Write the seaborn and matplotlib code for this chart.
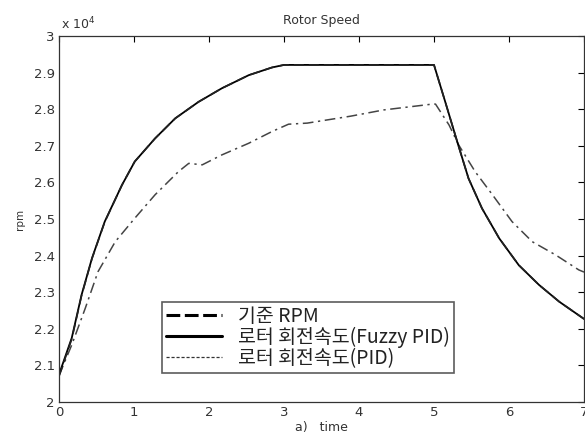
import numpy as np
import pandas as pd
import matplotlib
matplotlib.use("Agg")
import matplotlib.pyplot as plt
from matplotlib.lines import Line2D
import seaborn as sns

# 데이터 (그림에서 읽은 값, 단위 1e4 rpm)
t_ref = [0.0, 0.17, 0.30, 0.44, 0.61, 0.84, 1.01, 1.28, 1.55, 1.86, 2.17, 2.53, 2.84, 3.0,
         4.98, 5.0, 5.15, 5.31, 5.46, 5.64, 5.87, 6.13, 6.40, 6.67, 7.0]
rpm_ref = [2.07, 2.172, 2.29, 2.392, 2.492, 2.593, 2.657, 2.72, 2.775, 2.82, 2.857, 2.893, 2.914,
           2.921, 2.921, 2.921, 2.82, 2.711, 2.611, 2.529, 2.447, 2.374, 2.32, 2.274, 2.227]
rpm_fuzzy = [2.075, 2.175, 2.292, 2.393, 2.493, 2.593, 2.657, 2.72, 2.775, 2.82, 2.857, 2.893, 2.914,
             2.921, 2.921, 2.921, 2.82, 2.711, 2.611, 2.529, 2.447, 2.374, 2.32, 2.274, 2.227]

t_pid = [0.0, 0.17, 0.35, 0.52, 0.75, 1.01, 1.28, 1.59, 1.73, 1.91, 2.17, 2.53, 2.84, 3.06, 3.31,
         3.89, 4.33, 4.98, 5.02, 5.20, 5.33, 5.55, 5.78, 6.04, 6.31, 6.62, 6.93, 7.0]
rpm_pid = [2.072, 2.156, 2.256, 2.356, 2.438, 2.502, 2.566, 2.629, 2.652, 2.648, 2.675, 2.707, 2.739,
           2.759, 2.762, 2.781, 2.798, 2.814, 2.814, 2.757, 2.702, 2.629, 2.566, 2.493, 2.438, 2.402,
           2.361, 2.355]

labels = ["기준 RPM", "로터 회전속도(Fuzzy PID)", "로터 회전속도(PID)"]

df_ref = pd.DataFrame({"time": t_ref, "ref": rpm_ref, "fuzzy": rpm_fuzzy})
df_pid = pd.DataFrame({"time": t_pid, "pid": rpm_pid})

sns.set_style("white")
plt.rcParams["font.family"] = ["DejaVu Sans"]

fig = plt.figure(figsize=(5.85, 4.46), dpi=100)
ax = fig.add_axes([59 / 585, 44 / 446, 525 / 585, 366 / 446])

sns.lineplot(data=df_pid, x="time", y="pid", ax=ax, color="#444444", lw=1.1,
             linestyle=(0, (7, 3, 1.5, 3)), sort=False)
sns.lineplot(data=df_ref, x="time", y="fuzzy", ax=ax, color="black", lw=1.3, sort=False)
sns.lineplot(data=df_ref, x="time", y="ref", ax=ax, color="#222222", lw=1.2,
             linestyle=(0, (6, 3)), sort=False)

ax.set_xlim(0, 7)
ax.set_ylim(2, 3)
ax.set_xticks(range(0, 8))
ax.set_yticks(np.round(np.arange(2, 3.01, 0.1), 1))
ax.set_yticklabels(["2", "2.1", "2.2", "2.3", "2.4", "2.5", "2.6", "2.7", "2.8", "2.9", "3"])
ax.tick_params(direction="in", top=True, right=True, length=4, width=0.8,
               labelsize=9.5, colors="black", labelcolor="#333333", pad=3)
for s in ax.spines.values():
    s.set_color("#333333")
    s.set_linewidth(0.9)

ax.set_xlabel("a)   time", fontsize=9, color="#333333", labelpad=1)
ax.set_ylabel("rpm", fontsize=7.5, color="#333333", labelpad=6)
ax.set_title("Rotor Speed", fontsize=9, color="#333333", pad=8.5)
fig.text(61 / 585, 1 - 29 / 446, r"x 10$^{4}$", fontsize=9, color="#333333", va="baseline")

handles = [
    Line2D([], [], color="black", lw=2.2, linestyle=(0, (4.5, 1.5))),
    Line2D([], [], color="black", lw=2.2),
    Line2D([], [], color="#333333", lw=0.9, linestyle=(0, (2.5, 1.5))),
]
leg = ax.legend(handles, labels, loc="lower left", bbox_to_anchor=((162 - 59) / 525, (402 - 373) / 366),
                frameon=True, fancybox=False, borderpad=0.2, labelspacing=0.0, handlelength=2.9,
                handletextpad=0.8, borderaxespad=0,
                prop={"family": ["Noto Sans CJK KR", "DejaVu Sans"], "size": 14})
leg.get_frame().set_edgecolor("#333333")
leg.get_frame().set_linewidth(1.2)
for txt in leg.get_texts():
    txt.set_color("#222222")

fig.savefig("out.png", dpi=100)
